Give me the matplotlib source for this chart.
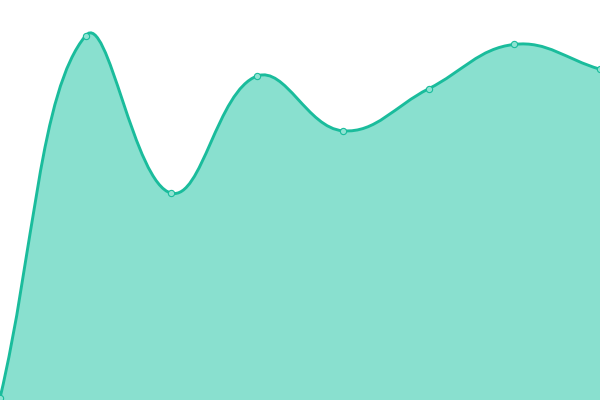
import numpy as np
import matplotlib
matplotlib.use('Agg')
import matplotlib.pyplot as plt
from matplotlib.path import Path
from matplotlib.patches import PathPatch

# Dados
x_vals = [0, 1, 2, 3, 4, 5, 6, 7]
y_vals = [0, 90.6, 51.2, 80.5, 66.8, 77.3, 88.4, 82.2]

line_color = '#1abc9c'
fill_color = '#89e0cf'
ymin, ymax = -0.5, 99.5
W, H = 600, 400
tension = 0.4

# Converte para pixels (para o cálculo dos pontos de controle)
px = np.array(x_vals) * W / (len(x_vals) - 1)
py = (np.array(y_vals) - ymin) * H / (ymax - ymin)
pts = np.column_stack([px, py])

def to_data(p):
    return (p[0] * (len(x_vals) - 1) / W, p[1] * (ymax - ymin) / H + ymin)

n = len(pts)
c_prev, c_next = [], []
for i in range(n):
    prev = pts[i - 1] if i > 0 else pts[i]
    cur = pts[i]
    nxt = pts[i + 1] if i < n - 1 else pts[i]
    d01 = np.hypot(*(cur - prev))
    d12 = np.hypot(*(nxt - cur))
    tot = d01 + d12
    s01 = d01 / tot if tot else 0
    s12 = d12 / tot if tot else 0
    fa, fb = tension * s01, tension * s12
    cp = cur - fa * (nxt - prev)
    cn = cur + fb * (nxt - prev)
    cp[1] = np.clip(cp[1], 0, H); cn[1] = np.clip(cn[1], 0, H)
    c_prev.append(cp); c_next.append(cn)

verts = [to_data(pts[0])]
codes = [Path.MOVETO]
for i in range(n - 1):
    verts += [to_data(c_next[i]), to_data(c_prev[i + 1]), to_data(pts[i + 1])]
    codes += [Path.CURVE4] * 3
line_path = Path(verts, codes)
fill_path = Path(verts + [(x_vals[-1], ymin), (x_vals[0], ymin), verts[0]],
                 codes + [Path.LINETO, Path.LINETO, Path.CLOSEPOLY])

fig = plt.figure(figsize=(6, 4), dpi=100)
ax = fig.add_axes([0, 0, 1, 1])
ax.add_patch(PathPatch(fill_path, facecolor=fill_color, edgecolor='none'))
ax.add_patch(PathPatch(line_path, facecolor='none', edgecolor=line_color, lw=2.1))
ax.plot(x_vals, y_vals, 'o', ms=4.5, mfc='#8fe3d2', mec=line_color, mew=0.8)
ax.set_xlim(0, 7)
ax.set_ylim(ymin, ymax)
ax.axis('off')
fig.savefig('out.png', dpi=100)
